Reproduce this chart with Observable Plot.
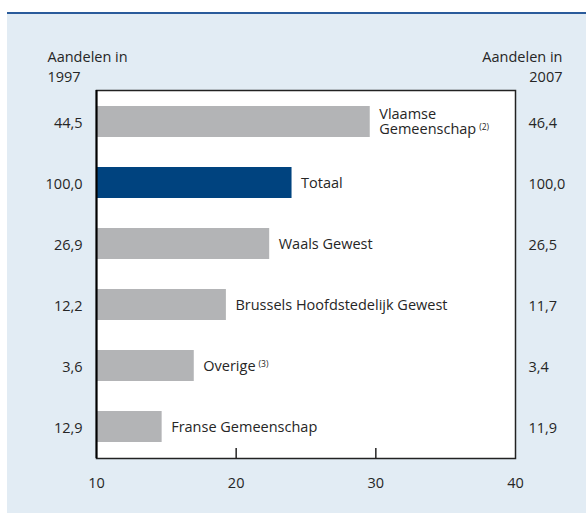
<!DOCTYPE html>
<html>
<head>
<meta charset="utf-8">
<script src="https://cdn.jsdelivr.net/npm/d3@7"></script>
<script src="https://cdn.jsdelivr.net/npm/@observablehq/plot@0.6"></script>
<style>
  html, body { margin: 0; padding: 0; background: #ffffff; }
  #wrap { position: relative; width: 586px; height: 516px; overflow: hidden; font-family: "Open Sans", sans-serif; }
  #panel { position: absolute; left: 7px; top: 12px; right: 0; bottom: 3px; background: #e2ecf4; border-top: 2px solid #2a5b9b; }
  #chart { position: absolute; left: 0; top: 0; }
</style>
</head>
<body>
<div id="wrap"><div id="panel"></div><div id="chart"></div></div>
<script>
// ---- data ----
const categories = ["Vlaamse Gemeenschap", "Totaal", "Waals Gewest", "Brussels Hoofdstedelijk Gewest", "Overige", "Franse Gemeenschap"];
const labels = ["Vlaamse\nGemeenschap", "Totaal", "Waals Gewest", "Brussels Hoofdstedelijk Gewest", "Overige", "Franse Gemeenschap"];
const notes = ["(2)", "", "", "", "(3)", ""];
const values = [29.6, 24.0, 22.4, 19.3, 17.0, 14.7];
const shares1997 = ["44,5", "100,0", "26,9", "12,2", "3,6", "12,9"];
const shares2007 = ["46,4", "100,0", "26,5", "11,7", "3,4", "11,9"];
const xTicks = [10, 20, 30, 40];
const innerTicks = [20, 30];
const header1997 = "Aandelen in\n1997";
const header2007 = "Aandelen in\n2007";
const highlight = "Totaal";

const data = categories.map((name, i) => ({
  name, label: labels[i], note: notes[i], value: values[i], v1997: shares1997[i], v2007: shares2007[i]
}));

const W = 586, H = 516, MT = 90, MB = 58, ML = 96, MR = 71;
const gray = "#b3b4b6", blue = "#00437f", ink = "#262626";
const FS = 14.5;
const FONT = "'Open Sans', sans-serif";

const chart = Plot.plot({
  width: W, height: H,
  marginTop: MT, marginBottom: MB, marginLeft: ML, marginRight: MR,
  style: { background: "transparent", fontFamily: FONT, fontSize: FS + "px", color: ink, overflow: "visible" },
  x: { domain: [10, 40], axis: null },
  y: { domain: categories, paddingInner: 0.5, paddingOuter: 0.25, axis: null },
  color: { type: "identity" },
  marks: [
    Plot.frame({ fill: "white", stroke: null }),
    Plot.barX(data, { x1: 10, x2: "value", y: "name", fill: d => d.name === highlight ? blue : gray }),
    Plot.text(data, { x: "value", y: "name", text: "label", textAnchor: "start", dx: 9, lineHeight: 1.02, fill: ink, fontSize: FS }),
    Plot.text(data, { y: "name", text: "v1997", frameAnchor: "left", textAnchor: "end", dx: -14, dy: 1, fill: ink, fontSize: FS }),
    Plot.text(data, { y: "name", text: "v2007", frameAnchor: "right", textAnchor: "start", dx: 13, dy: 1, fill: ink, fontSize: FS }),
    Plot.text([header1997], { text: d => d, frameAnchor: "top-left", textAnchor: "start", lineAnchor: "bottom", lineHeight: 1.36, dx: -49, dy: -9, fill: ink, fontSize: FS }),
    Plot.text([header2007], { text: d => d, frameAnchor: "top-right", textAnchor: "end", lineAnchor: "bottom", lineHeight: 1.36, dx: 47, dy: -9, fill: ink, fontSize: FS }),
    Plot.axisX(xTicks, { tickSize: 0, tickPadding: 19, label: null, fill: ink, fontSize: FS }),
    Plot.ruleX(innerTicks, { stroke: ink, strokeWidth: 1.5, insetTop: (H - MT - MB) - 10 }),
    Plot.frame({ stroke: "#222", strokeWidth: 1.5 }),
    Plot.ruleX([10], { stroke: "#000", strokeWidth: 2 })
  ]
});

// superscript notes appended as real text
const withNotes = data.filter(d => d.note);
chart.querySelectorAll("text").forEach(t => {
  const content = t.textContent;
  const d = withNotes.find(d => d.label.replace(/\n/g, "") === content);
  if (d) {
    const ns = "http://www.w3.org/2000/svg";
    const s = document.createElementNS(ns, "tspan");
    s.setAttribute("dx", "3");
    s.setAttribute("dy", "-4");
    s.setAttribute("font-size", "8.5");
    s.textContent = d.note;
    t.appendChild(s);
  }
});

document.getElementById("chart").appendChild(chart);
</script>
</body>
</html>
